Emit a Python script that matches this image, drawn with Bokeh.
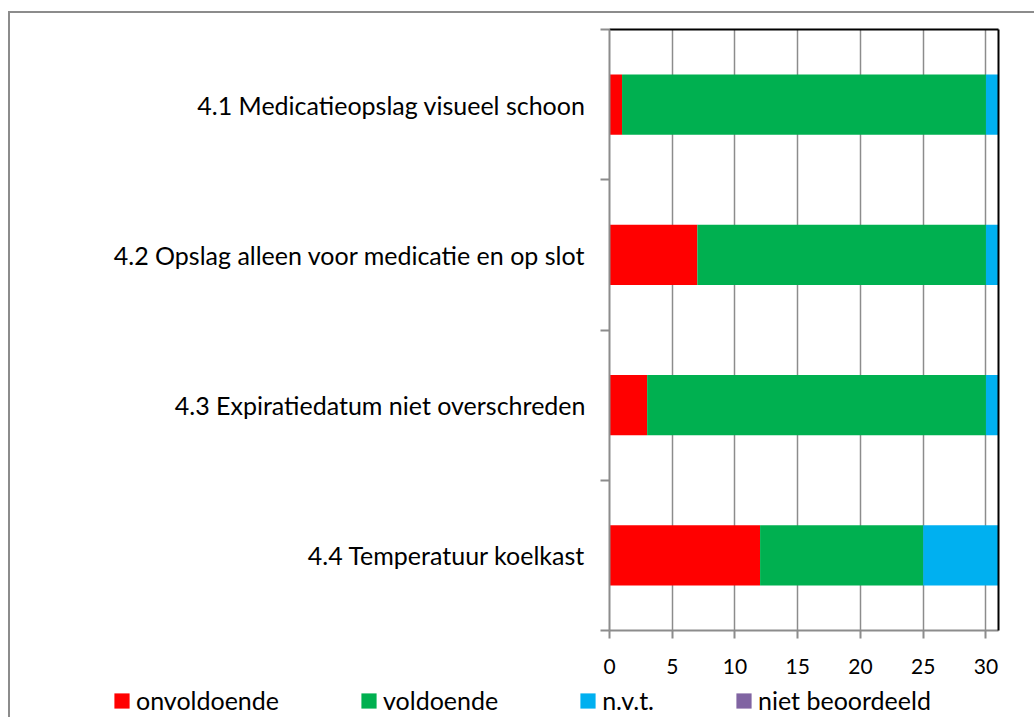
from bokeh.plotting import figure
from bokeh.layouts import column
from bokeh.models import (Range1d, FixedTicker, LinearAxis, Legend, LegendItem,
                          ColumnDataSource)
from bokeh.embed import file_html
from bokeh.resources import INLINE

categories = ["4.1 Medicatieopslag visueel schoon",
              "4.2 Opslag alleen voor medicatie en op slot",
              "4.3 Expiratiedatum niet overschreden",
              "4.4 Temperatuur koelkast"]
onvoldoende = [1, 7, 3, 12]
voldoende = [29, 23, 27, 13]
nvt = [1, 1, 1, 6]
niet_beoordeeld = [0, 0, 0, 0]
series_names = ["onvoldoende", "voldoende", "n.v.t.", "niet beoordeeld"]
series_keys = ["onvoldoende", "voldoende", "nvt", "niet_beoordeeld"]
colors = ["#FF0000", "#00B050", "#00B0F0", "#8064A2"]
x_ticks = [0, 5, 10, 15, 20, 25, 30]

FONT = "Lato"
FS_CAT = "25px"
FS_TICK = "21px"
GRAY = "#8c8c8c"

n = len(categories)
ypos = [n - i - 0.5 for i in range(n)]

src = ColumnDataSource(dict(y=ypos, onvoldoende=onvoldoende, voldoende=voldoende,
                            nvt=nvt, niet_beoordeeld=niet_beoordeeld))

p = figure(width=1024, height=672, output_backend="svg", toolbar_location=None,
           x_range=Range1d(0, 31), y_range=Range1d(0, n),
           min_border_left=599, min_border_right=36, min_border_top=16,
           min_border_bottom=55, outline_line_color=None,
           background_fill_color="white", border_fill_color="white")
p.frame_align = False

p.hbar_stack(series_keys, y="y", height=0.4, color=colors, line_color=None, source=src)

# x axis
xa = p.xaxis[0]
xa.ticker = FixedTicker(ticks=x_ticks, minor_ticks=[])
xa.axis_line_color = GRAY
xa.axis_line_width = 2
xa.major_tick_line_color = GRAY
xa.major_tick_line_width = 2
xa.major_tick_out = 8
xa.major_tick_in = 0
xa.minor_tick_line_color = None
xa.major_label_standoff = 20
xa.major_label_text_font = FONT
xa.major_label_text_font_size = FS_TICK
xa.major_label_text_color = "black"

# y axis: labels at band centres, ticks at band boundaries
ya = p.yaxis[0]
ya.ticker = FixedTicker(ticks=ypos, minor_ticks=list(range(n + 1)))
ya.major_label_overrides = {float(y): c for y, c in zip(ypos, categories)}
ya.axis_line_color = GRAY
ya.axis_line_width = 2
ya.major_tick_line_color = None
ya.major_tick_out = 0
ya.major_tick_in = 0
ya.minor_tick_line_color = GRAY
ya.minor_tick_line_width = 2
ya.minor_tick_out = 9
ya.minor_tick_in = 0
ya.major_label_standoff = 15
ya.major_label_text_font = FONT
ya.major_label_text_font_size = FS_CAT
ya.major_label_text_color = "black"

# grid
p.xgrid.ticker = FixedTicker(ticks=x_ticks)
p.xgrid.grid_line_color = GRAY
p.xgrid.grid_line_width = 1.5
p.ygrid.grid_line_color = None

# black top and right edges of the plot area
for place in ("right", "above"):
    ax = LinearAxis(ticker=FixedTicker(ticks=[]), axis_line_color="black",
                    axis_line_width=2, major_tick_line_color=None,
                    minor_tick_line_color=None, major_label_text_font_size="0px")
    p.add_layout(ax, place)

# legend strip below the chart (same data, bars kept out of view)
lg = figure(width=1024, height=32, output_backend="svg", toolbar_location=None,
            x_range=Range1d(0, 1), y_range=Range1d(100, 101),
            min_border=0, outline_line_color=None,
            background_fill_color="white", border_fill_color="white")
lg.frame_align = False
lg.axis.visible = False
lg.grid.visible = False
lg_renderers = lg.hbar_stack(series_keys, y="y", height=0.4, color=colors,
                             line_color=None, source=src)
items = [LegendItem(label=nm, renderers=[r]) for nm, r in zip(series_names, lg_renderers)]
legend = Legend(items=items, orientation="horizontal", location=(102, 2),
                padding=0, margin=0, spacing=80, label_standoff=5,
                glyph_width=19, glyph_height=19, border_line_color=None,
                background_fill_alpha=0, label_text_font=FONT,
                label_text_font_size=FS_CAT, label_text_color="black")
lg.add_layout(legend, "center")

layout = column(p, lg, spacing=0, margin=(11, 0, 0, 8),
                styles={"border-left": "2px solid #8c8c8c",
                        "border-top": "2px solid #8c8c8c"})

open("out.html", "w").write(file_html(layout, INLINE))
